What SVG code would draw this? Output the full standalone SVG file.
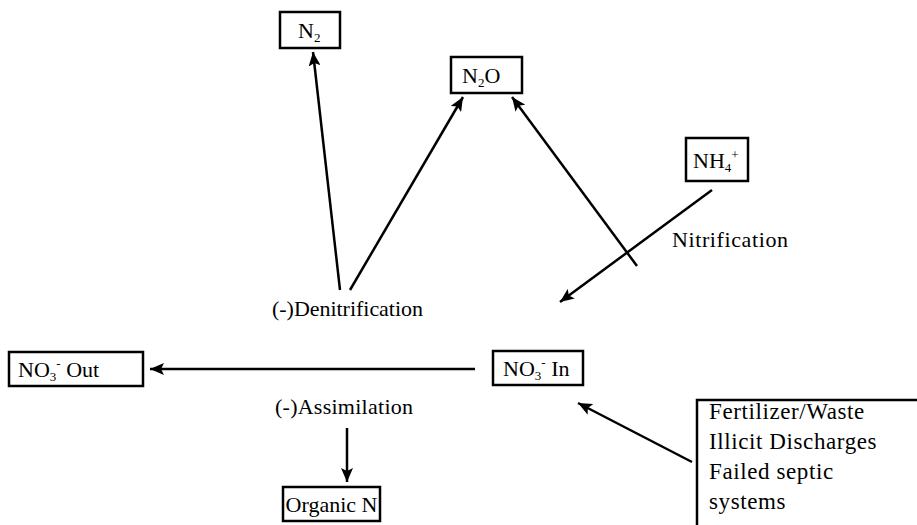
<svg xmlns="http://www.w3.org/2000/svg" width="917" height="525" viewBox="0 0 917 525">
<style>
text{font-family:"Liberation Serif","Times New Roman",serif;font-size:22px;fill:#000}
.box{fill:#fff;stroke:#000;stroke-width:2.5}
.ln{stroke:#000;stroke-width:2.5;fill:none;marker-end:url(#ah)}
.s{font-size:13px}
.src{font-size:23px;letter-spacing:0.6px}
</style>
<defs>
<marker id="ah" markerUnits="userSpaceOnUse" markerWidth="16" markerHeight="12" refX="14" refY="6" orient="auto">
<path d="M0,0 L14,6 L0,12 L3,6 Z" fill="#000"/>
</marker>
</defs>
<rect width="917" height="525" fill="#fff"/>
<g id="connectors">
<line class="ln" x1="340" y1="290" x2="313" y2="52"/>
<line class="ln" x1="350" y1="290" x2="463" y2="97"/>
<line class="ln" x1="637" y1="266" x2="512" y2="97"/>
<line class="ln" x1="712" y1="190" x2="560" y2="302"/>
<line class="ln" x1="475" y1="369" x2="150" y2="369"/>
<line class="ln" x1="347" y1="428" x2="347" y2="482"/>
<line class="ln" x1="692" y1="462" x2="578" y2="403"/>
</g>
<g id="n2">
<rect class="box" x="280" y="12" width="60" height="36"/>
<text x="298" y="38">N<tspan class="s" dy="4">2</tspan></text>
</g>
<g id="n2o">
<rect class="box" x="451" y="57" width="71" height="36"/>
<text x="462" y="83">N<tspan class="s" dy="4">2</tspan><tspan dy="-4">O</tspan></text>
</g>
<g id="nh4">
<rect class="box" x="686" y="138" width="62" height="43"/>
<text x="693" y="168">NH<tspan class="s" dy="4">4</tspan><tspan class="s" dy="-13">+</tspan></text>
</g>
<g id="no3out">
<rect class="box" x="9" y="352" width="134" height="34"/>
<text x="18" y="377">NO<tspan class="s" dy="4">3</tspan><tspan class="s" dy="-13">-</tspan><tspan dy="9"> Out</tspan></text>
</g>
<g id="no3in">
<rect class="box" x="493" y="351" width="90" height="34"/>
<text x="503" y="376">NO<tspan class="s" dy="4">3</tspan><tspan class="s" dy="-13">-</tspan><tspan dy="9">  In</tspan></text>
</g>
<g id="organicn">
<rect class="box" x="283" y="487" width="97" height="34"/>
<text x="331.5" y="512" text-anchor="middle">Organic N</text>
</g>
<g id="sources">
<rect class="box" x="697" y="400" width="240" height="140"/>
<text class="src" x="709" y="419">Fertilizer/Waste</text>
<text class="src" x="709" y="449">Illicit Discharges</text>
<text class="src" x="709" y="479">Failed septic</text>
<text class="src" x="709" y="509">systems</text>
</g>
<g id="labels">
<text x="672" y="247" textLength="116">Nitrification</text>
<text x="272" y="316" textLength="151">(-)Denitrification</text>
<text x="275" y="414" textLength="138">(-)Assimilation</text>
</g>
</svg>
